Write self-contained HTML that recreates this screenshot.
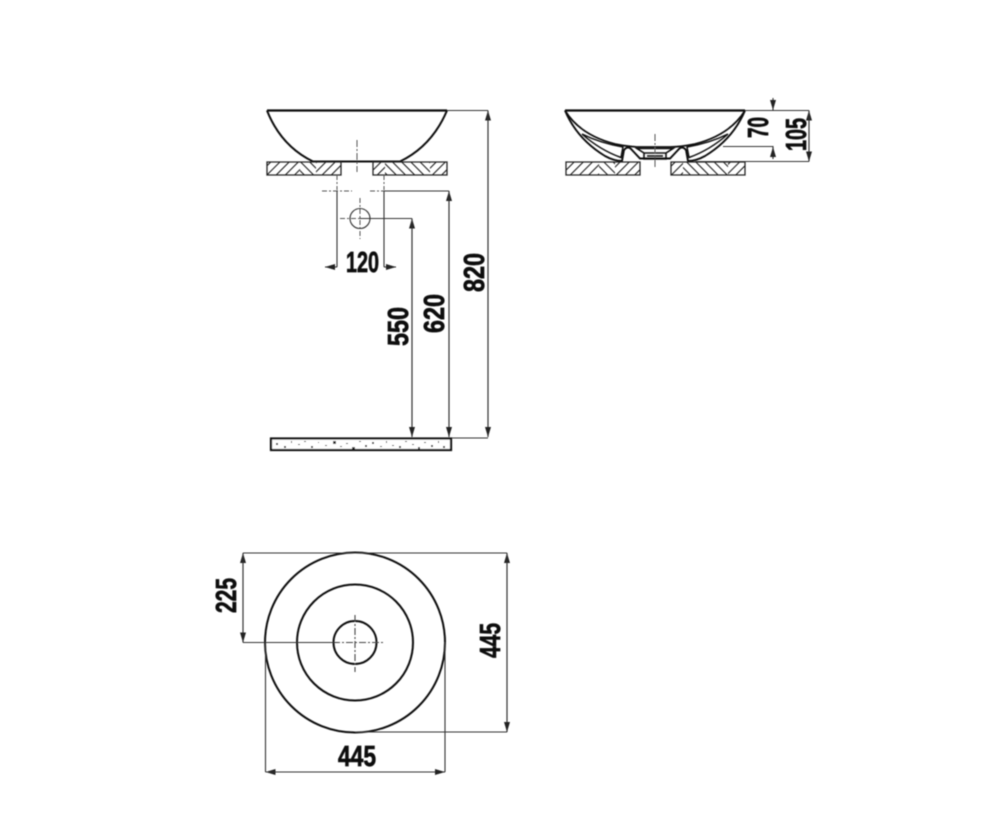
<!DOCTYPE html>
<html>
<head>
<meta charset="utf-8">
<style>
html,body{margin:0;padding:0;background:#fff;width:1000px;height:840px;overflow:hidden}
svg{display:block}
text{font-family:"Liberation Sans Narrow","Liberation Sans",sans-serif;font-weight:700;fill:#111;stroke:#111;stroke-width:.7px;font-size:29px}
</style>
</head>
<body>
<svg width="1000" height="840" viewBox="0 0 1000 840" xmlns="http://www.w3.org/2000/svg">
<defs>
<filter id="b" x="-5%" y="-5%" width="110%" height="110%"><feGaussianBlur stdDeviation="0.45"/></filter>
<pattern id="h1" width="6.5" height="6.5" patternUnits="userSpaceOnUse" patternTransform="rotate(45)"><line x1="0" y1="0" x2="0" y2="6.5" stroke="#111" stroke-width="2"/></pattern>
<pattern id="h2" width="6.5" height="6.5" patternUnits="userSpaceOnUse" patternTransform="rotate(-45)"><line x1="0" y1="0" x2="0" y2="6.5" stroke="#111" stroke-width="2"/></pattern>
<marker id="a" viewBox="0 0 10 6" refX="10" refY="3" markerWidth="10" markerHeight="6" markerUnits="userSpaceOnUse" orient="auto-start-reverse"><path d="M0,0L10,3L0,6Z" fill="#222"/></marker>
</defs>
<g filter="url(#b)">
<!-- Left bowl -->
<path d="M267,110.5H447" stroke="#111" stroke-width="2.2" fill="none"/>
<path d="M267,110.5Q281,146 313,161.5H400Q432,146 447,110.5" stroke="#111" stroke-width="2" fill="none"/>
<!-- Left counter -->
<g stroke="none">
<rect x="267" y="162" width="33" height="13" fill="url(#h1)"/>
<rect x="300" y="162" width="16" height="13" fill="url(#h2)"/>
<rect x="316" y="162" width="25" height="13" fill="url(#h1)"/>
<rect x="373" y="162" width="12" height="13" fill="url(#h1)"/>
<rect x="385" y="162" width="45" height="13" fill="url(#h2)"/>
<rect x="430" y="162" width="17" height="13" fill="url(#h1)"/>
</g>
<path d="M267,162H341V175H267ZM373,162H447V175H373Z" fill="none" stroke="#222" stroke-width="1.3"/>
<!-- centre and hole marks -->
<g stroke="#555" stroke-width="1" fill="none">
<path d="M357,140V172" stroke-dasharray="7,2,2,2"/>
<path d="M337,175V190" stroke-dasharray="5,2,2,2"/>
<path d="M384,175V190" stroke-dasharray="5,2,2,2"/>
<path d="M322,191H352M370,191H384" stroke-dasharray="5,2,2,2"/>
<path d="M340,218.5H360" stroke-dasharray="5,2,2,2"/>
<path d="M360,198V239" stroke-dasharray="5,2,2,2"/>
<circle cx="360" cy="218.5" r="10" stroke="#333" stroke-width="1.1"/>
</g>
<!-- left dimensions -->
<g stroke="#333" stroke-width="1.1" fill="none">
<path d="M337,191V267"/>
<path d="M384,191V267"/>
<path d="M337,267H325" marker-end="url(#a)"/>
<path d="M384,267H396" marker-end="url(#a)"/>
<path d="M384,191H449"/>
<path d="M449,437V191" marker-end="url(#a)"/>
<path d="M449,191V437" marker-end="url(#a)"/>
<path d="M360,218.5H412"/>
<path d="M412,437V218.5" marker-end="url(#a)"/>
<path d="M412,218.5V437" marker-end="url(#a)"/>
<path d="M447,110.5H488"/>
<path d="M488,437V110.5" marker-end="url(#a)"/>
<path d="M488,110.5V437" marker-end="url(#a)"/>
<path d="M451,438H488"/>
</g>
<!-- floor -->
<rect x="271" y="438.5" width="180" height="11.5" fill="#fff" stroke="#111" stroke-width="2.2"/>
<g fill="#333">
<rect x="276" y="443" width="2" height="2"/><rect x="284" y="446" width="2" height="2"/><rect x="291" y="441" width="1" height="2"/><rect x="298" y="444" width="2" height="1"/><rect x="304" y="441" width="2" height="1"/><rect x="311" y="446" width="2" height="2"/><rect x="318" y="442" width="1" height="1"/><rect x="325" y="445" width="2" height="1"/><rect x="333" y="441" width="3" height="3"/><rect x="340" y="446" width="2" height="1"/><rect x="346" y="443" width="2" height="1"/><rect x="352" y="447" width="3" height="2"/><rect x="359" y="441" width="2" height="1"/><rect x="365" y="445" width="2" height="2"/><rect x="372" y="442" width="2" height="2"/><rect x="380" y="446" width="2" height="1"/><rect x="386" y="441" width="1" height="2"/><rect x="392" y="445" width="2" height="1"/><rect x="399" y="446" width="2" height="2"/><rect x="405" y="441" width="2" height="1"/><rect x="412" y="444" width="2" height="1"/><rect x="418" y="447" width="2" height="2"/><rect x="424" y="442" width="2" height="1"/><rect x="431" y="445" width="2" height="2"/><rect x="438" y="441" width="1" height="2"/><rect x="443" y="446" width="2" height="2"/>
</g>
<!-- Right section -->
<g fill="none" stroke="#111">
<path d="M565,110.5H745" stroke-width="2.2"/>
<path d="M565,110.5Q577,139 605,156Q614,161 622,161L624,150Q628,145 632,150L640,158.500H670L678,150Q682,145 686,150L688,161Q696,161 705,156Q733,139 745,110.5" stroke-width="1.9"/>
<path d="M565,110.5Q580,135 615,144Q630,147 640,147H670Q680,147 695,144Q730,135 745,110.5" stroke-width="1.7"/>
<path d="M582,134Q600,150 621,157.500L623,147Q600,143 582,134Z" stroke-width="1.5"/>
<path d="M728,134Q710,150 689,157.500L687,147Q710,143 728,134Z" stroke-width="1.5"/>
<path d="M637,148.500H673L666,153H644ZM644,153V159H666V153" stroke-width="1.6"/>
<path d="M647,156H663" stroke-width="1.6"/>
<path d="M655,134V167" stroke="#555" stroke-width="1" stroke-dasharray="7,2,2,2"/>
</g>
<!-- Right counter -->
<g stroke="none">
<rect x="566" y="162" width="33" height="13" fill="url(#h1)"/>
<rect x="599" y="162" width="16" height="13" fill="url(#h2)"/>
<rect x="615" y="162" width="25" height="13" fill="url(#h1)"/>
<rect x="671" y="162" width="12" height="13" fill="url(#h1)"/>
<rect x="683" y="162" width="45" height="13" fill="url(#h2)"/>
<rect x="728" y="162" width="17" height="13" fill="url(#h1)"/>
</g>
<path d="M566,162H640V175H566ZM671,162H745V175H671Z" fill="none" stroke="#222" stroke-width="1.3"/>
<!-- right dimensions -->
<g stroke="#333" stroke-width="1.1" fill="none">
<path d="M745,110.5H809"/>
<path d="M773,98V110" marker-end="url(#a)"/>
<path d="M723,146.5H773V159"/>
<path d="M773,159V147" marker-end="url(#a)"/>
<path d="M695,161.5H809"/>
<path d="M809,161.5V110.5" marker-end="url(#a)"/>
<path d="M809,110.5V161.5" marker-end="url(#a)"/>
</g>
<!-- Plan -->
<g fill="none" stroke="#111" stroke-width="2">
<circle cx="355" cy="642.5" r="90"/>
<circle cx="355" cy="642.5" r="58"/>
<circle cx="355" cy="642.5" r="21.5"/>
</g>
<g fill="none" stroke="#333" stroke-width="1.1">
<path d="M355,615V672M333,642.5H384" stroke-dasharray="7,2,2,2" stroke="#444"/>
<path d="M243,642.5H338"/>
<path d="M243,553H507"/>
<path d="M355,732H507"/>
<path d="M243,642.5V553" marker-end="url(#a)"/>
<path d="M243,553V642.5" marker-end="url(#a)"/>
<path d="M507,732V553" marker-end="url(#a)"/>
<path d="M507,553V732" marker-end="url(#a)"/>
<path d="M265.500,642V772"/>
<path d="M445,642V772"/>
<path d="M445,772H265.500" marker-end="url(#a)"/>
<path d="M265.500,772H445" marker-end="url(#a)"/>
</g>
<!-- Labels -->
<text x="346" y="272" textLength="33" lengthAdjust="spacingAndGlyphs">120</text>
<text transform="translate(484,292) rotate(-90)" textLength="39" lengthAdjust="spacingAndGlyphs">820</text>
<text transform="translate(444,333) rotate(-90)" textLength="39" lengthAdjust="spacingAndGlyphs">620</text>
<text transform="translate(408,346) rotate(-90)" textLength="39" lengthAdjust="spacingAndGlyphs">550</text>
<text transform="translate(768,138) rotate(-90)" textLength="21" lengthAdjust="spacingAndGlyphs">70</text>
<text transform="translate(806,151) rotate(-90)" textLength="33" lengthAdjust="spacingAndGlyphs">105</text>
<text transform="translate(236,613) rotate(-90)" textLength="35" lengthAdjust="spacingAndGlyphs">225</text>
<text transform="translate(500,658) rotate(-90)" textLength="35" lengthAdjust="spacingAndGlyphs">445</text>
<text x="338" y="766" textLength="38" lengthAdjust="spacingAndGlyphs">445</text>
</g>
</svg>
</body>
</html>
